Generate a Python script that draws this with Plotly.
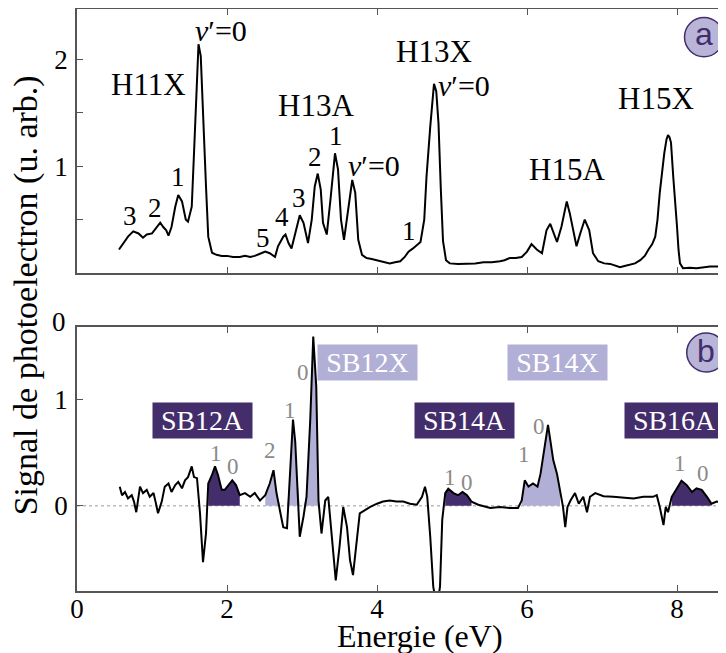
import plotly.graph_objects as go

# ---------------- data ----------------
# panel (a): photoelectron spectrum
energy_a = [0.56, 0.60, 0.64, 0.68, 0.75, 0.82, 0.88, 0.93, 1.00, 1.06, 1.11, 1.15, 1.19, 1.22, 1.26,
            1.31, 1.35, 1.40, 1.45, 1.48, 1.53, 1.56, 1.60, 1.62, 1.65, 1.68, 1.72, 1.75, 1.80, 1.86,
            1.93, 2.00, 2.08, 2.17, 2.24, 2.31, 2.37, 2.44, 2.51, 2.57, 2.64, 2.68, 2.75, 2.78, 2.82,
            2.86, 2.91, 2.97, 3.02, 3.08, 3.13, 3.17, 3.21, 3.25, 3.28, 3.33, 3.38, 3.44, 3.48, 3.52,
            3.56, 3.62, 3.67, 3.71, 3.75, 3.80, 3.86, 3.93, 4.00, 4.08, 4.17, 4.24, 4.31, 4.37, 4.42,
            4.48, 4.53, 4.58, 4.63, 4.66, 4.71, 4.74, 4.76, 4.79, 4.82, 4.85, 4.88, 4.92, 4.97, 5.08,
            5.20, 5.31, 5.42, 5.53, 5.64, 5.70, 5.77, 5.85, 5.93, 6.00, 6.06, 6.13, 6.20, 6.26, 6.31,
            6.35, 6.40, 6.46, 6.53, 6.57, 6.62, 6.66, 6.71, 6.77, 6.83, 6.88, 6.95, 7.03, 7.11, 7.17,
            7.24, 7.30, 7.37, 7.44, 7.51, 7.57, 7.62, 7.67, 7.71, 7.74, 7.77, 7.80, 7.83, 7.86, 7.88,
            7.90, 7.92, 7.95, 7.98, 8.00, 8.02, 8.04, 8.08, 8.17, 8.26, 8.35, 8.44, 8.54, 8.65]
signal_a = [0.22, 0.26, 0.31, 0.34, 0.39, 0.37, 0.33, 0.36, 0.37, 0.43, 0.47, 0.43, 0.40, 0.35, 0.43,
            0.62, 0.73, 0.67, 0.50, 0.48, 0.62, 1.12, 1.75, 2.14, 2.03, 1.44, 0.81, 0.34, 0.19, 0.17,
            0.16, 0.16, 0.15, 0.15, 0.16, 0.15, 0.16, 0.18, 0.20, 0.185, 0.15, 0.25, 0.34, 0.36, 0.28,
            0.23, 0.37, 0.54, 0.47, 0.28, 0.50, 0.81, 0.93, 0.78, 0.47, 0.36, 0.69, 1.12, 0.97, 0.50,
            0.31, 0.59, 0.87, 0.75, 0.31, 0.17, 0.14, 0.13, 0.12, 0.11, 0.09, 0.10, 0.11, 0.15, 0.20,
            0.23, 0.26, 0.29, 0.50, 0.90, 1.37, 1.62, 1.77, 1.70, 1.40, 0.80, 0.30, 0.12, 0.09, 0.085,
            0.085, 0.09, 0.10, 0.10, 0.11, 0.12, 0.14, 0.14, 0.15, 0.20, 0.27, 0.22, 0.185, 0.40, 0.46,
            0.39, 0.29, 0.435, 0.67, 0.56, 0.37, 0.25, 0.37, 0.50, 0.40, 0.185, 0.11, 0.09, 0.085, 0.07,
            0.055, 0.065, 0.075, 0.09, 0.12, 0.16, 0.22, 0.27, 0.34, 0.50, 0.75, 0.95, 1.12, 1.25, 1.29,
            1.27, 1.22, 0.90, 0.65, 0.435, 0.22, 0.09, 0.045, 0.05, 0.045, 0.055, 0.06, 0.06, 0.065]

# panel (b): sideband difference signal
energy_b = [0.57, 0.60, 0.64, 0.68, 0.73, 0.76, 0.79, 0.84, 0.88, 0.93, 0.97, 1.02, 1.05, 1.08, 1.13,
            1.17, 1.22, 1.26, 1.31, 1.35, 1.40, 1.44, 1.48, 1.53, 1.56, 1.60, 1.64, 1.68, 1.72, 1.75,
            1.80, 1.84, 1.88, 1.93, 1.97, 2.02, 2.07, 2.12, 2.17, 2.24, 2.31, 2.37, 2.44, 2.51, 2.57,
            2.62, 2.66, 2.71, 2.75, 2.80, 2.83, 2.86, 2.88, 2.91, 2.93, 2.97, 3.02, 3.06, 3.11, 3.15,
            3.19, 3.22, 3.26, 3.31, 3.35, 3.40, 3.45, 3.50, 3.55, 3.60, 3.64, 3.68, 3.73, 3.77, 3.84,
            3.91, 4.00, 4.08, 4.17, 4.26, 4.35, 4.44, 4.53, 4.60, 4.64, 4.67, 4.71, 4.75, 4.80, 4.84,
            4.87, 4.91, 4.95, 5.02, 5.08, 5.14, 5.20, 5.26, 5.35, 5.44, 5.51, 5.64, 5.77, 5.88, 5.93,
            5.97, 6.02, 6.08, 6.14, 6.18, 6.23, 6.26, 6.28, 6.31, 6.35, 6.40, 6.44, 6.48, 6.51, 6.54,
            6.58, 6.64, 6.69, 6.75, 6.80, 6.84, 6.91, 7.02, 7.15, 7.28, 7.42, 7.55, 7.68, 7.73, 7.77,
            7.82, 7.85, 7.88, 7.93, 8.00, 8.06, 8.13, 8.20, 8.26, 8.33, 8.40, 8.46, 8.53, 8.65]
signal_b = [0.18, 0.10, 0.13, 0.07, 0.10, 0.04, -0.06, 0.18, 0.12, 0.15, 0.085, 0.12, 0.03, -0.07, 0.04,
            0.18, 0.21, 0.13, 0.195, 0.225, 0.165, 0.24, 0.27, 0.37, 0.27, 0.26, -0.07, -0.53, -0.26, 0.21,
            0.29, 0.37, 0.29, 0.15, 0.15, 0.195, 0.24, 0.195, 0.10, 0.12, 0.085, 0.12, 0.05, 0.10, 0.21,
            0.335, 0.12, -0.06, -0.20, -0.21, 0.18, 0.65, 0.81, 0.60, 0.335, -0.29, -0.10, 0.085, 0.81, 1.59,
            1.12, 0.05, -0.26, 0.05, 0.085, -0.29, -0.70, -0.385, -0.01, -0.20, -0.51, -0.65, -0.29, -0.07, -0.04,
            -0.01, 0.02, 0.04, 0.05, 0.04, 0.04, 0.02, 0.01, 0.085, 0.18, 0.085, -0.29, -0.76, -0.95, -0.76,
            -0.13, 0.12, 0.16, 0.12, 0.10, 0.13, 0.10, 0.04, 0.01, -0.01, -0.02, -0.01, -0.02, -0.02, 0.05,
            0.24, 0.18, 0.21, 0.18, 0.30, 0.52, 0.65, 0.76, 0.62, 0.43, 0.30, 0.15, -0.01, -0.20, -0.01,
            0.05, 0.12, 0.02, 0.085, -0.06, 0.085, 0.12, 0.09, 0.085, 0.08, 0.07, 0.085, 0.085, 0.10, -0.01,
            -0.18, -0.01, -0.06, 0.085, 0.165, 0.235, 0.195, 0.13, 0.165, 0.15, 0.085, 0.02, 0.04, 0.03]

# shaded sideband windows (energy ranges)
sb_A_windows = [(1.73, 2.17), (4.89, 5.26), (7.92, 8.46)]
sb_X_windows = [(2.46, 3.23), (5.92, 6.47)]

# labels panel (a): text, energy, signal
labels_a_big = [("H11X", 0.95, 1.76), ("H13A", 3.19, 1.57), ("H13X", 4.76, 2.075),
                ("H15A", 6.53, 0.97), ("H15X", 7.72, 1.63)]
labels_a_v0 = [(1.92, 2.27), (3.96, 1.01), (5.16, 1.75)]
labels_a_num = [("1", 1.35, 0.90), ("2", 1.04, 0.61), ("3", 0.71, 0.53),
                ("5", 2.48, 0.33), ("4", 2.73, 0.52), ("3", 2.96, 0.70),
                ("2", 3.17, 1.09), ("1", 3.45, 1.28), ("1", 4.43, 0.39)]
# labels panel (b)
labels_b_A = [("SB12A", 1.673, 0.80), ("SB14A", 5.16, 0.80), ("SB16A", 7.97, 0.80)]
labels_b_X = [("SB12X", 3.873, 1.346), ("SB14X", 6.40, 1.346)]
labels_b_num = [("1", 1.85, 0.49), ("0", 2.08, 0.37), ("2", 2.57, 0.52), ("1", 2.84, 0.90),
                ("0", 3.01, 1.25), ("1", 4.97, 0.27), ("0", 5.20, 0.22), ("1", 5.96, 0.48),
                ("0", 6.16, 0.75), ("1", 8.04, 0.40), ("0", 8.35, 0.30)]

x_ticks = [0, 2, 4, 6, 8]
ya_ticks = [0.5, 1, 1.5, 2]
ya_ticktext = ["", "1", "", "2"]
yb_ticks = [0, 1]

# ---------------- styles ----------------
DARK = "#432d6b"
LIGHT = "#b1afd5"
RED = "#c8312f"
GRAY = "#8a8a8a"
SERIF = "Liberation Serif"

fig = go.Figure()


def window_fill(xs, ys, lo, hi):
    px, py = [], []
    for x, y in zip(xs, ys):
        if lo <= x <= hi:
            px.append(x)
            py.append(max(y, 0))
    return [px[0]] + px + [px[-1]], [0] + py + [0]


for lo, hi in sb_A_windows:
    fx, fy = window_fill(energy_b, signal_b, lo, hi)
    fig.add_trace(go.Scatter(x=fx, y=fy, xaxis="x2", yaxis="y2", mode="lines",
                             line=dict(width=0), fill="toself", fillcolor=DARK,
                             hoverinfo="skip", showlegend=False))
for lo, hi in sb_X_windows:
    fx, fy = window_fill(energy_b, signal_b, lo, hi)
    fig.add_trace(go.Scatter(x=fx, y=fy, xaxis="x2", yaxis="y2", mode="lines",
                             line=dict(width=0), fill="toself", fillcolor=LIGHT,
                             hoverinfo="skip", showlegend=False))

fig.add_trace(go.Scatter(x=energy_a, y=signal_a, mode="lines", xaxis="x", yaxis="y",
                         line=dict(color="black", width=2), showlegend=False))
fig.add_trace(go.Scatter(x=energy_b, y=signal_b, mode="lines", xaxis="x2", yaxis="y2",
                         line=dict(color="black", width=2), showlegend=False))

axis_common = dict(showline=True, mirror="ticks", linecolor="#555555", linewidth=1.5,
                   ticks="inside", ticklen=6, tickcolor="#555555", tickwidth=1.2,
                   showgrid=False, zeroline=False, automargin=False,
                   tickfont=dict(family=SERIF, size=27, color="black"))

# page has an 8px body margin, so the figure is 8px smaller than the window
fig.update_layout(
    template="none",
    width=718, height=645,
    margin=dict(l=69, r=1, t=1, b=62, autoexpand=False),
    paper_bgcolor="white", plot_bgcolor="white",
    showlegend=False,
    xaxis=dict(domain=[0, 1], range=[0, 8.64], tickvals=x_ticks, showticklabels=False,
               anchor="y", **axis_common),
    yaxis=dict(domain=[0.5464, 1], range=[0.0, 2.47], tickvals=ya_ticks, ticktext=ya_ticktext,
               anchor="x", ticklabelstandoff=2, **axis_common),
    xaxis2=dict(domain=[0, 1], range=[0, 8.64], tickvals=x_ticks, anchor="y2",
                ticklabelstandoff=-7, **axis_common),
    yaxis2=dict(domain=[0, 0.4536], range=[-0.80, 1.68], tickvals=yb_ticks,
                anchor="x2", ticklabelstandoff=2, **axis_common),
)

shapes = [
    dict(type="line", xref="x2", yref="y2", x0=0, x1=8.64, y0=0, y1=0,
         line=dict(color="#999999", width=1, dash="dot"), layer="below"),
    dict(type="circle", xref="x", yref="y", x0=8.36 - 0.26, x1=8.36 + 0.26,
         y0=2.207 - 0.183, y1=2.207 + 0.183, fillcolor="#b8b5d9",
         line=dict(color=DARK, width=1.5)),
    dict(type="circle", xref="x2", yref="y2", x0=8.39 - 0.26, x1=8.39 + 0.26,
         y0=1.44 - 0.183, y1=1.44 + 0.183, fillcolor="#b8b5d9",
         line=dict(color=DARK, width=1.5)),
]
fig.update_layout(shapes=shapes)

ann = []
for t, x, y in labels_a_big:
    ann.append(dict(text=t, x=x, y=y, xref="x", yref="y", showarrow=False,
                    font=dict(family=SERIF, size=31, color="black")))
for x, y in labels_a_v0:
    ann.append(dict(text="<i>v</i>′=0", x=x, y=y, xref="x", yref="y", showarrow=False,
                    font=dict(family=SERIF, size=30, color="black")))
for t, x, y in labels_a_num:
    ann.append(dict(text=t, x=x, y=y, xref="x", yref="y", showarrow=False,
                    font=dict(family=SERIF, size=27, color="black")))
for t, x, y in labels_b_A:
    ann.append(dict(text=t, x=x, y=y, xref="x2", yref="y2", showarrow=False,
                    bgcolor=DARK, width=97, height=33, borderpad=1,
                    font=dict(family=SERIF, size=28, color="white")))
for t, x, y in labels_b_X:
    ann.append(dict(text=t, x=x, y=y, xref="x2", yref="y2", showarrow=False,
                    bgcolor=LIGHT, width=97, height=33, borderpad=1,
                    font=dict(family=SERIF, size=28, color="white")))
for t, x, y in labels_b_num:
    ann.append(dict(text=t, x=x, y=y, xref="x2", yref="y2", showarrow=False,
                    font=dict(family=SERIF, size=23, color=GRAY)))

# circled panel letters
ann.append(dict(text="a", x=8.36, y=2.207, xref="x", yref="y", showarrow=False,
                font=dict(family="Liberation Sans", size=32, color=DARK), yshift=3))
ann.append(dict(text="b", x=8.39, y=1.44, xref="x2", yref="y2", showarrow=False,
                font=dict(family="Liberation Sans", size=32, color=DARK), yshift=2))

# 2 omega_0 arrow
ann.append(dict(x=4.77, y=-0.113, ax=1.64, ay=-0.113, xref="x", yref="y", axref="x", ayref="y",
                text="", showarrow=True, arrowhead=2, arrowside="end+start", arrowsize=1.2,
                arrowwidth=1.5, arrowcolor=RED))
ann.append(dict(text="2 <i>ω</i><sub>0</sub>", x=3.19, y=-0.272, xref="x", yref="y",
                showarrow=False, font=dict(family=SERIF, size=28, color=RED)))

# stray top tick label of lower panel
ann.append(dict(text="0", x=-0.0139, y=0.4614, xref="paper", yref="paper",
                xanchor="right", yanchor="middle",
                showarrow=False, font=dict(family=SERIF, size=27, color="black")))

# axis titles
ann.append(dict(text="Signal de photoelectron (u. arb.)", x=-0.0787, y=0.508,
                xref="paper", yref="paper", xanchor="center", yanchor="middle",
                textangle=-90, showarrow=False,
                font=dict(family=SERIF, size=34, color="black")))
ann.append(dict(text="Energie (eV)", x=0.529, y=-0.0772, xref="paper", yref="paper",
                xanchor="center", yanchor="middle",
                showarrow=False, font=dict(family=SERIF, size=32, color="black")))

fig.update_layout(annotations=ann)
fig.write_html("out.html")
